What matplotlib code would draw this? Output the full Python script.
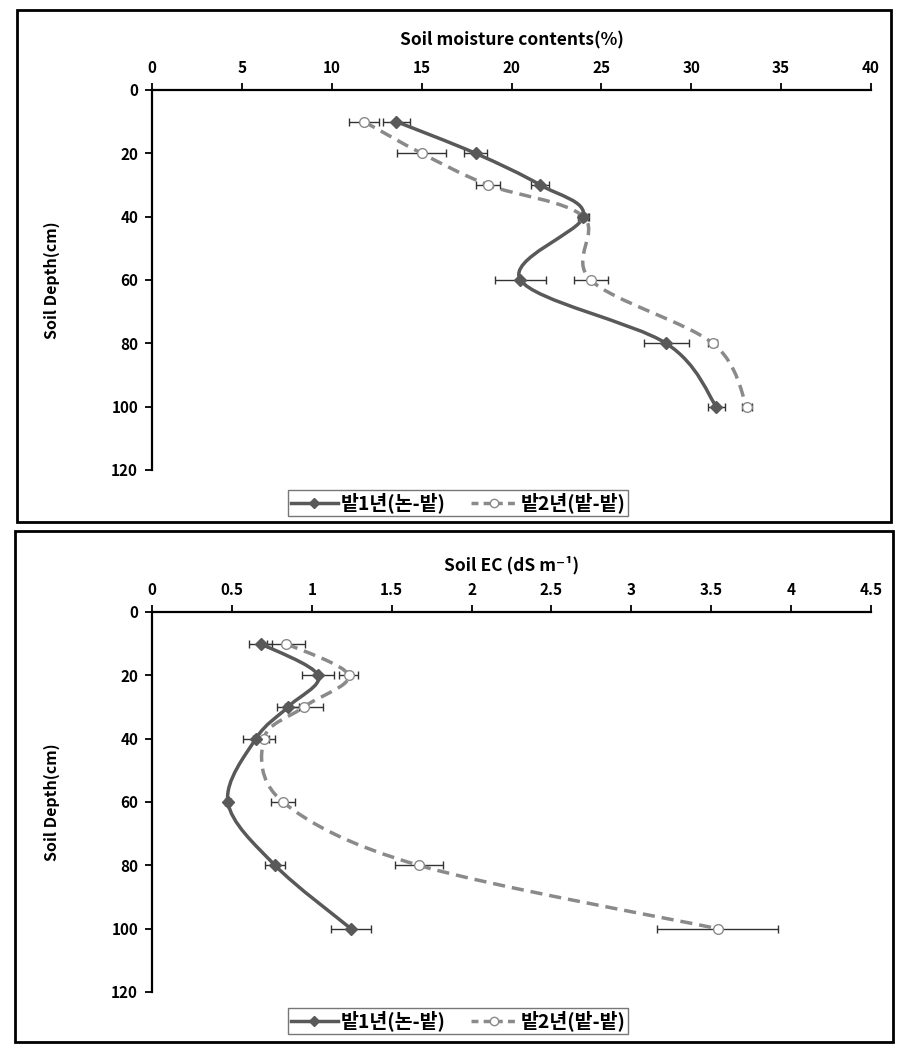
import numpy as np
import matplotlib
matplotlib.use('Agg')
import matplotlib.pyplot as plt
from matplotlib.path import Path
from matplotlib.patches import PathPatch, Rectangle
from matplotlib.lines import Line2D

plt.rcParams['font.family'] = ['Noto Sans CJK KR', 'DejaVu Sans']
plt.rcParams['font.weight'] = 'bold'

# data
depth = [10, 20, 30, 40, 60, 80, 100]

moist_1 = [13.6, 18.0, 21.6, 24.0, 20.5, 28.6, 31.4]
moist_1_err = [0.75, 0.65, 0.5, 0.25, 1.4, 1.25, 0.45]
moist_2 = [11.8, 15.0, 18.7, 24.0, 24.4, 31.2, 33.1]
moist_2_err = [0.85, 1.35, 0.65, 0.3, 0.95, 0.25, 0.3]

ec_1 = [0.68, 1.04, 0.85, 0.65, 0.475, 0.77, 1.245]
ec_1_err = [0.07, 0.1, 0.07, 0.08, 0.02, 0.065, 0.125]
ec_2 = [0.84, 1.23, 0.95, 0.70, 0.82, 1.67, 3.54]
ec_2_err = [0.12, 0.06, 0.12, 0.07, 0.075, 0.15, 0.38]

series_names = ['밭1년(논-밭)', '밭2년(밭-밭)']
moist_ticks = [0, 5, 10, 15, 20, 25, 30, 35, 40]
ec_ticks = [0, 0.5, 1, 1.5, 2, 2.5, 3, 3.5, 4, 4.5]
ec_ticklabels = ['0', '0.5', '1', '1.5', '2', '2.5', '3', '3.5', '4', '4.5']
depth_ticks = [0, 20, 40, 60, 80, 100, 120]

c1 = '#595959'
c2 = '#8a8a8a'

W, H = 909, 1050
fig = plt.figure(figsize=(W / 100, H / 100), dpi=100)


def smooth_path(xs, ys, sx, sy):
    # excel-like smoothed line (catmull-rom as cubic bezier), built in pixel space
    pts = np.column_stack([np.asarray(xs, float) * sx, np.asarray(ys, float) * sy])
    ext = np.vstack([pts[0], pts, pts[-1]])
    verts = [pts[0]]
    codes = [Path.MOVETO]
    for i in range(len(pts) - 1):
        p0, p1, p2, p3 = ext[i], ext[i + 1], ext[i + 2], ext[i + 3]
        verts += [p1 + (p2 - p0) / 6, p2 - (p3 - p1) / 6, p2]
        codes += [Path.CURVE4] * 3
    verts = np.array(verts) / [sx, sy]
    return Path(verts, codes)


def panel(y_top, y_bot, xmax, xticks, xticklabels, s1, e1, s2, e2, xlabel, label_y):
    left, right = 152, 871
    ax = fig.add_axes([left / W, 1 - y_bot / H, (right - left) / W, (y_bot - y_top) / H])
    ax.set_xlim(0, xmax)
    ax.set_ylim(120, 0)
    sx = (right - left) / xmax
    sy = (y_bot - y_top) / 120

    ax.errorbar(s1, depth, xerr=e1, fmt='none', ecolor='#333333', elinewidth=1,
                capsize=3, capthick=1, zorder=2)
    ax.errorbar(s2, depth, xerr=e2, fmt='none', ecolor='#333333', elinewidth=1,
                capsize=3, capthick=1, zorder=2)

    ax.add_patch(PathPatch(smooth_path(s2, depth, sx, sy), fill=False, edgecolor=c2,
                           lw=2.5, linestyle=(0, (3.5, 2)), zorder=3))
    ax.add_patch(PathPatch(smooth_path(s1, depth, sx, sy), fill=False, edgecolor=c1,
                           lw=2.5, zorder=4))
    ax.plot(s2, depth, 'o', ms=7, mfc='white', mec=c2, mew=1, zorder=5)
    ax.plot(s1, depth, 'D', ms=6, mfc=c1, mec=c1, zorder=6)

    ax.xaxis.tick_top()
    ax.set_xticks(xticks)
    ax.set_xticklabels(xticklabels)
    ax.set_yticks(depth_ticks)
    for side in ['right', 'bottom']:
        ax.spines[side].set_visible(False)
    for side in ['left', 'top']:
        ax.spines[side].set_linewidth(1.6)
    ax.tick_params(direction='out', length=5, width=1.3, labelsize=11, pad=5)
    for lab in ax.get_xticklabels() + ax.get_yticklabels():
        lab.set_fontweight('bold')

    ax.set_ylabel('Soil Depth(cm)', fontsize=11.5, fontweight='bold')
    ax.yaxis.set_label_coords((60 - left) / (right - left), 0.5)
    ax.text(0.5, 1 + (y_top - label_y) / (y_bot - y_top), xlabel, transform=ax.transAxes,
            ha='center', va='center', fontsize=12.5, fontweight='bold')
    return ax


panel(90, 470, 40, moist_ticks, [str(t) for t in moist_ticks],
      moist_1, moist_1_err, moist_2, moist_2_err, 'Soil moisture contents(%)', 40)
panel(612, 992, 4.5, ec_ticks, ec_ticklabels,
      ec_1, ec_1_err, ec_2, ec_2_err, 'Soil EC (dS m⁻¹)', 565)

# panel frames
fig.patches.append(Rectangle((17 / W, 1 - 522 / H), (891 - 17) / W, (522 - 10) / H,
                             transform=fig.transFigure, fill=False, ec='black', lw=2))
fig.patches.append(Rectangle((15 / W, 1 - 1042 / H), (893 - 15) / W, (1042 - 531) / H,
                             transform=fig.transFigure, fill=False, ec='black', lw=2))

handles = [
    Line2D([], [], color=c1, lw=2.5, marker='D', ms=5, mfc=c1, mec=c1),
    Line2D([], [], color=c2, lw=2.5, linestyle=(0, (2, 1.5)), marker='o', ms=6,
           mfc='white', mec=c2, mew=1),
]
for yc in [503, 1021]:
    leg = fig.legend(handles, series_names, loc='center', bbox_to_anchor=(458 / W, 1 - yc / H),
                     ncol=2, frameon=True, fancybox=False, edgecolor='#555555',
                     prop={'weight': 'bold', 'size': 14}, handlelength=2.4,
                     columnspacing=1.3, handletextpad=0.15, borderpad=0.15,
                     borderaxespad=0)
    leg.get_frame().set_linewidth(1)

fig.savefig('out.png', dpi=100)
